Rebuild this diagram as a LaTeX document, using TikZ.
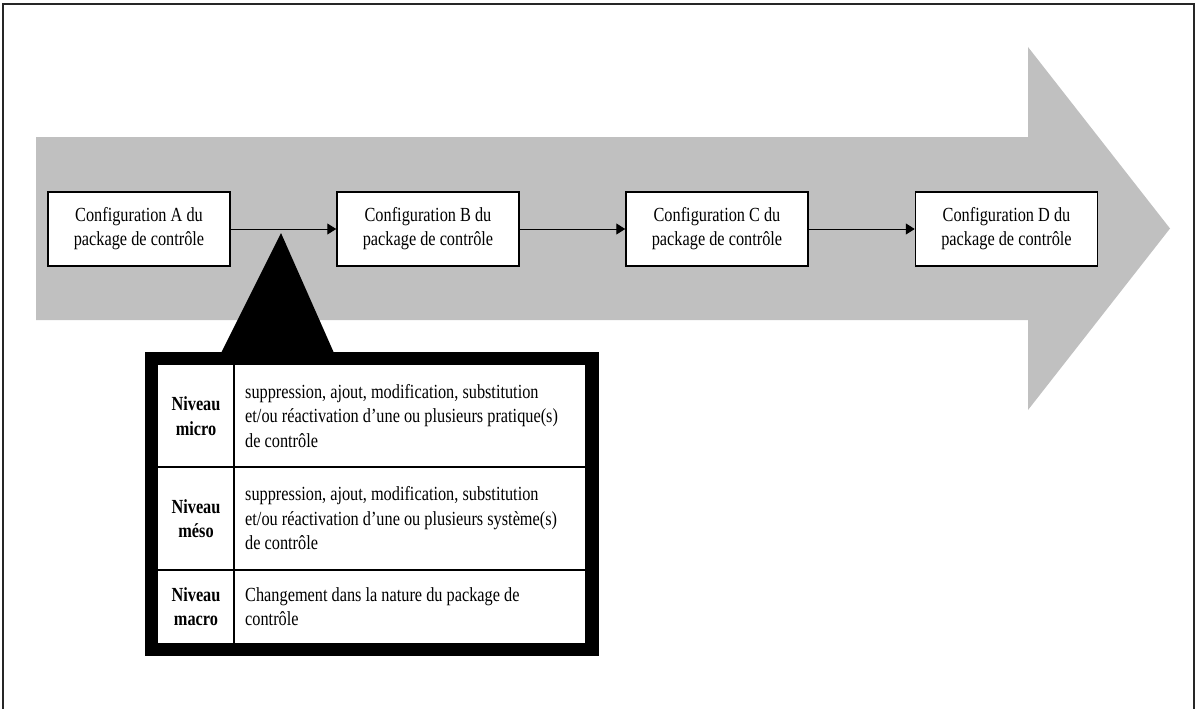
\documentclass[tikz,border=0pt]{standalone}
\usepackage{fontspec}
\setmainfont{Liberation Serif}[FakeStretch=0.815]
\usetikzlibrary{arrows.meta}
\definecolor{arrowgray}{RGB}{192,192,192}
\tikzset{
  confbox/.style={draw=black, fill=white, line width=1.5pt, minimum width=182pt, minimum height=74pt, align=center, inner sep=0pt, font=\fontsize{20}{24}\selectfont},
  flow/.style={line width=1pt, -{Triangle[length=9pt,width=11pt]}},
  lvl/.style={align=center, inner sep=0pt, font=\fontsize{20}{24.5}\selectfont\bfseries},
  desc/.style={anchor=west, align=left, inner sep=0pt, font=\fontsize{20}{24.5}\selectfont},
  grid/.style={line width=1.4pt, draw=black}
}
\begin{document}
\begin{tikzpicture}[x=1pt, y=-1pt]
\useasboundingbox (0,0) rectangle (1196,709);
% outer frame (bottom edge lies outside the picture)
\draw[line width=1.4pt, draw=black!85] (3,720) -- (3,4) -- (1194,4) -- (1194,720);
% big gray arrow
\fill[arrowgray] (36,137) -- (1028,137) -- (1028,47) -- (1170,228.5) -- (1028,410) -- (1028,320) -- (36,320) -- cycle;
% configuration boxes
\node[confbox] (A) at (139,229) {Configuration A du\\package de contrôle};
\node[confbox] (B) at (428,229) {Configuration B du\\package de contrôle};
\node[confbox] (C) at (717,229) {Configuration C du\\package de contrôle};
\node[confbox] (D) at (1006.5,229) {Configuration D du\\package de contrôle};
\draw[flow] (A) -- (B);
\draw[flow] (B) -- (C);
\draw[flow] (C) -- (D);
% callout triangle and table frame
\fill[black] (281,233) -- (334,353) -- (221,353) -- cycle;
\fill[black] (145,352) rectangle (599,656);
\fill[white] (158,365) rectangle (585,643);
\draw[grid] (234,365) -- (234,643);
\draw[grid] (158,467) -- (585,467);
\draw[grid] (158,570) -- (585,570);
% table texts
\node[lvl] (l1) at (196,416) {Niveau\\micro};
\node[lvl] (l2) at (196,518.5) {Niveau\\méso};
\node[lvl] (l3) at (196,606.5) {Niveau\\macro};
\node[desc] (d1) at (245,416) {suppression, ajout, modification, substitution\\et/ou réactivation d’une ou plusieurs pratique(s)\\de contrôle};
\node[desc] (d2) at (245,518.5) {suppression, ajout, modification, substitution\\et/ou réactivation d’une ou plusieurs système(s)\\de contrôle};
\node[desc] (d3) at (245,606.5) {Changement dans la nature du package de\\contrôle};
\end{tikzpicture}
\end{document}
